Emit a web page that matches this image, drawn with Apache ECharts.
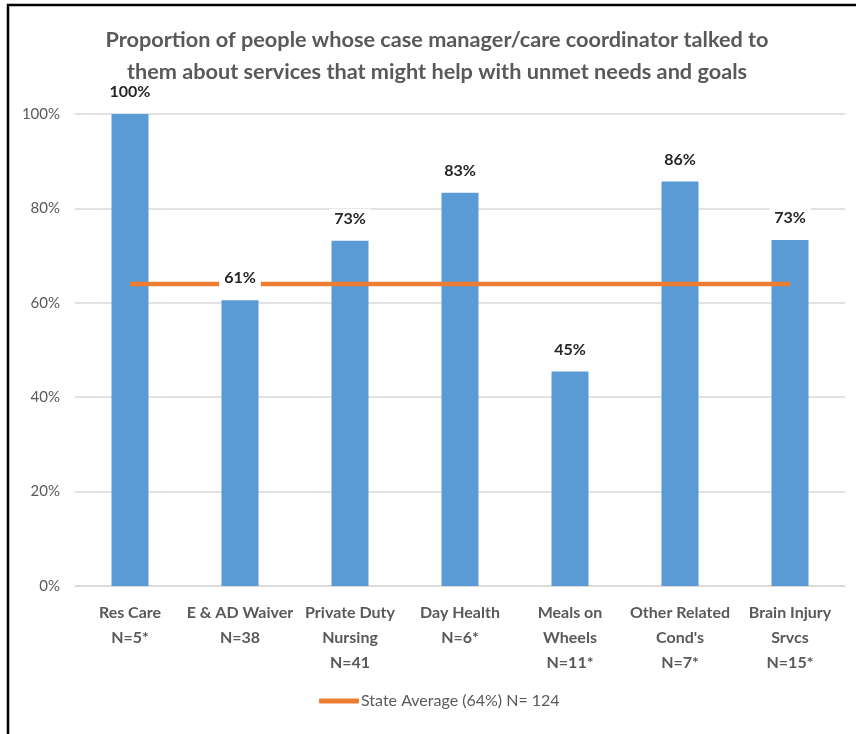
<!DOCTYPE html>
<html>
<head>
<meta charset="utf-8">
<script src="https://cdn.jsdelivr.net/npm/echarts@6/dist/echarts.min.js"></script>
<style>
  html, body { margin: 0; padding: 0; background: #fff; }
  #chart { width: 856px; height: 734px; }
</style>
</head>
<body>
<div id="chart"></div>
<script>
// Service categories with their sample sizes
const categories = [
  'Res Care\nN=5*',
  'E & AD Waiver\nN=38',
  'Private Duty\nNursing\nN=41',
  'Day Health\nN=6*',
  'Meals on\nWheels\nN=11*',
  "Other Related\nCond's\nN=7*",
  'Brain Injury\nSrvcs\nN=15*'
];

// Percent of people per service
const proportions = [100, 60.53, 73.17, 83.33, 45.45, 85.71, 73.33];

// State-wide average, repeated across every category
const stateAverageName = 'State Average (64%) N= 124';
const stateAverage = [64, 64, 64, 64, 64, 64, 64];

// Value axis ticks
const yTicks = { min: 0, max: 100, interval: 20 };

const FONT = 'Lato';
const chart = echarts.init(document.getElementById('chart'), null, { renderer: 'canvas' });

chart.setOption({
  animation: false,
  backgroundColor: '#ffffff',
  textStyle: { fontFamily: FONT },
  title: {
    text: 'Proportion of people whose case manager/care coordinator talked to\nthem about services that might help with unmet needs and goals',
    left: 437,
    top: 24,
    padding: 0,
    textAlign: 'center',
    textStyle: {
      fontFamily: FONT,
      fontSize: 21.7,
      fontWeight: 'bold',
      color: '#595959',
      lineHeight: 32
    }
  },
  graphic: [{
    type: 'rect',
    shape: { x: 8, y: 5, width: 900, height: 800 },
    style: { fill: 'none', stroke: '#000', lineWidth: 2.5 },
    silent: true,
    z: 100
  }],
  legend: {
    data: [{ name: stateAverageName, icon: 'roundRect' }],
    left: 314,
    bottom: 20,
    itemWidth: 40,
    itemHeight: 5,
    itemGap: 10,
    textStyle: { fontFamily: FONT, fontSize: 16, color: '#595959', padding: [0, 0, 0, -3] },
    selectedMode: false
  },
  grid: { left: 75, right: 11, top: 114, bottom: 148 },
  xAxis: {
    type: 'category',
    data: categories,
    axisTick: { show: false },
    axisLine: { lineStyle: { color: '#d9d9d9', width: 1.5 } },
    axisLabel: {
      interval: 0,
      margin: 14,
      fontFamily: FONT,
      fontSize: 16,
      fontWeight: 'bold',
      color: '#595959',
      lineHeight: 25
    }
  },
  yAxis: {
    type: 'value',
    min: yTicks.min,
    max: yTicks.max,
    interval: yTicks.interval,
    axisLine: { show: false },
    axisTick: { show: false },
    splitLine: { lineStyle: { color: '#d9d9d9', width: 1.5 } },
    axisLabel: {
      formatter: '{value}%',
      margin: 15,
      fontFamily: FONT,
      fontSize: 15,
      color: '#595959'
    }
  },
  series: [
    {
      name: 'Proportion',
      type: 'bar',
      data: proportions,
      barWidth: 37,
      barGap: '-100%',
      itemStyle: { color: '#5b9bd5' },
      z: 2,
      silent: true
    },
    {
      name: stateAverageName,
      type: 'line',
      data: stateAverage,
      symbol: 'none',
      lineStyle: { color: '#ed7d31', width: 4.5 },
      itemStyle: { color: '#ed7d31' },
      z: 3,
      silent: true
    },
    {
      // transparent twin of the bars that carries the value labels above the average line
      name: 'Proportion labels',
      type: 'bar',
      data: proportions,
      barWidth: 37,
      barGap: '-100%',
      itemStyle: { color: 'rgba(0,0,0,0)' },
      z: 4,
      silent: true,
      label: {
        show: true,
        position: 'top',
        distance: 12,
        formatter: p => Math.round(p.value) + '%',
        fontFamily: FONT,
        fontSize: 16,
        fontWeight: 'bold',
        color: '#262626',
        backgroundColor: '#ffffff',
        padding: [2, 5]
      }
    }
  ]
});
</script>
</body>
</html>
